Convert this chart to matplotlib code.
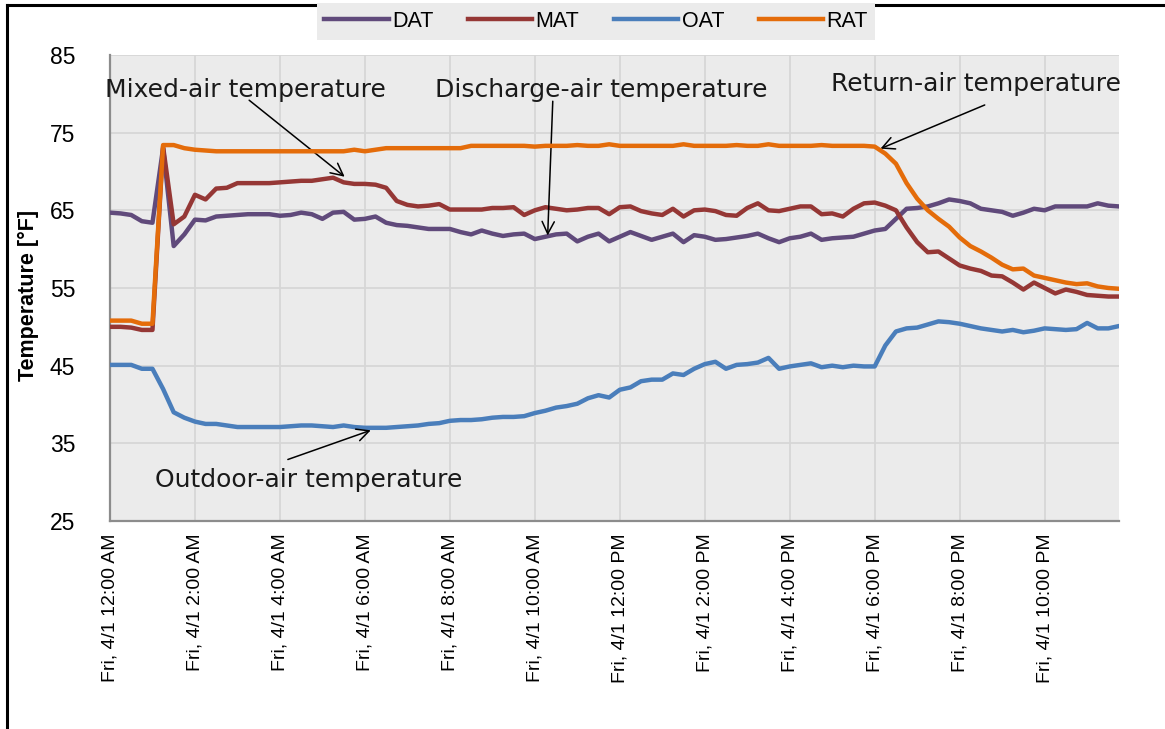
import matplotlib.pyplot as plt
from matplotlib.lines import Line2D

# 15-minute readings, Fri 4/1 00:00 .. 23:45
dat = [64.7, 64.6, 64.4, 63.6, 63.4, 73.0, 60.4, 61.9, 63.8, 63.7,
       64.2, 64.3, 64.4, 64.5, 64.5, 64.5, 64.3, 64.4, 64.7, 64.5,
       63.9, 64.7, 64.8, 63.8, 63.9, 64.2, 63.4, 63.1, 63.0, 62.8,
       62.6, 62.6, 62.6, 62.2, 61.9, 62.4, 62.0, 61.7, 61.9, 62.0,
       61.3, 61.6, 61.9, 62.0, 61.0, 61.6, 62.0, 61.0, 61.6, 62.2,
       61.7, 61.2, 61.6, 62.0, 60.9, 61.8, 61.6, 61.2, 61.3, 61.5,
       61.7, 62.0, 61.4, 60.9, 61.4, 61.6, 62.0, 61.2, 61.4, 61.5,
       61.6, 62.0, 62.4, 62.6, 63.9, 65.2, 65.3, 65.5, 65.9, 66.4,
       66.2, 65.9, 65.2, 65.0, 64.8, 64.3, 64.7, 65.2, 65.0, 65.5,
       65.5, 65.5, 65.5, 65.9, 65.6, 65.5]
mat = [50.0, 50.0, 49.9, 49.6, 49.6, 73.2, 63.2, 64.2, 67.0, 66.4,
       67.8, 67.9, 68.5, 68.5, 68.5, 68.5, 68.6, 68.7, 68.8, 68.8,
       69.0, 69.2, 68.6, 68.4, 68.4, 68.3, 67.9, 66.2, 65.7, 65.5,
       65.6, 65.8, 65.1, 65.1, 65.1, 65.1, 65.3, 65.3, 65.4, 64.4,
       65.0, 65.4, 65.2, 65.0, 65.1, 65.3, 65.3, 64.5, 65.4, 65.5,
       64.9, 64.6, 64.4, 65.2, 64.2, 65.0, 65.1, 64.9, 64.4, 64.3,
       65.3, 65.9, 65.0, 64.9, 65.2, 65.5, 65.5, 64.5, 64.6, 64.2,
       65.2, 65.9, 66.0, 65.6, 65.0, 62.8, 60.9, 59.6, 59.7, 58.8,
       57.9, 57.5, 57.2, 56.6, 56.5, 55.7, 54.8, 55.7, 55.0, 54.3,
       54.8, 54.5, 54.1, 54.0, 53.9, 53.9]
oat = [45.1, 45.1, 45.1, 44.6, 44.6, 42.0, 39.0, 38.3, 37.8, 37.5,
       37.5, 37.3, 37.1, 37.1, 37.1, 37.1, 37.1, 37.2, 37.3, 37.3,
       37.2, 37.1, 37.3, 37.1, 37.0, 37.0, 37.0, 37.1, 37.2, 37.3,
       37.5, 37.6, 37.9, 38.0, 38.0, 38.1, 38.3, 38.4, 38.4, 38.5,
       38.9, 39.2, 39.6, 39.8, 40.1, 40.8, 41.2, 40.9, 41.9, 42.2,
       43.0, 43.2, 43.2, 44.0, 43.8, 44.6, 45.2, 45.5, 44.6, 45.1,
       45.2, 45.4, 46.0, 44.6, 44.9, 45.1, 45.3, 44.8, 45.0, 44.8,
       45.0, 44.9, 44.9, 47.6, 49.4, 49.8, 49.9, 50.3, 50.7, 50.6,
       50.4, 50.1, 49.8, 49.6, 49.4, 49.6, 49.3, 49.5, 49.8, 49.7,
       49.6, 49.7, 50.5, 49.8, 49.8, 50.1]
rat = [50.8, 50.8, 50.8, 50.4, 50.4, 73.4, 73.4, 73.0, 72.8, 72.7,
       72.6, 72.6, 72.6, 72.6, 72.6, 72.6, 72.6, 72.6, 72.6, 72.6,
       72.6, 72.6, 72.6, 72.8, 72.6, 72.8, 73.0, 73.0, 73.0, 73.0,
       73.0, 73.0, 73.0, 73.0, 73.3, 73.3, 73.3, 73.3, 73.3, 73.3,
       73.2, 73.3, 73.3, 73.3, 73.4, 73.3, 73.3, 73.5, 73.3, 73.3,
       73.3, 73.3, 73.3, 73.3, 73.5, 73.3, 73.3, 73.3, 73.3, 73.4,
       73.3, 73.3, 73.5, 73.3, 73.3, 73.3, 73.3, 73.4, 73.3, 73.3,
       73.3, 73.3, 73.2, 72.3, 71.0, 68.5, 66.5, 65.0, 63.9, 62.9,
       61.5, 60.4, 59.7, 58.9, 58.0, 57.4, 57.5, 56.6, 56.3, 56.0,
       55.7, 55.5, 55.6, 55.2, 55.0, 54.9]

tick_labels = ["Fri, 4/1 12:00 AM", "Fri, 4/1 2:00 AM", "Fri, 4/1 4:00 AM",
               "Fri, 4/1 6:00 AM", "Fri, 4/1 8:00 AM", "Fri, 4/1 10:00 AM",
               "Fri, 4/1 12:00 PM", "Fri, 4/1 2:00 PM", "Fri, 4/1 4:00 PM",
               "Fri, 4/1 6:00 PM", "Fri, 4/1 8:00 PM", "Fri, 4/1 10:00 PM"]
y_ticks = [25, 35, 45, 55, 65, 75, 85]

colors = {"DAT": "#604A7B", "MAT": "#953735", "OAT": "#4A7EBB", "RAT": "#E46C0A"}
font = "Liberation Sans"
note_font = "DejaVu Sans"

fig = plt.figure(figsize=(11.65, 7.29), dpi=100)
ax = fig.add_axes([0.0944, 0.2853, 0.8661, 0.6393])
ax.set_facecolor("#EBEBEB")

x = list(range(len(dat)))
ax.plot(x, dat, color=colors["DAT"], lw=3.2, label="DAT", zorder=3)
ax.plot(x, mat, color=colors["MAT"], lw=3.2, label="MAT", zorder=3)
ax.plot(x, oat, color=colors["OAT"], lw=3.2, label="OAT", zorder=3)
ax.plot(x, rat, color=colors["RAT"], lw=3.2, label="RAT", zorder=4)

ax.set_xlim(0, len(dat) - 1)
ax.set_ylim(25, 85)
ax.set_yticks(y_ticks)
ax.set_yticklabels([str(v) for v in y_ticks], fontsize=16.5, family=font)
ax.set_xticks(range(0, len(dat), 8))
ax.set_xticklabels(tick_labels, rotation=90, fontsize=14, family=font,
                   va="top", ha="center")
ax.tick_params(axis="both", length=0)
ax.tick_params(axis="y", pad=25)
ax.tick_params(axis="x", pad=9)

ax.grid(True, color="#D6D6D6", lw=1.3)
ax.set_axisbelow(True)
for side in ["top", "right"]:
    ax.spines[side].set_visible(False)
for side in ["left", "bottom"]:
    ax.spines[side].set_color("#8C8C8C")
    ax.spines[side].set_linewidth(1.6)

ax.set_ylabel("Temperature [°F]", fontsize=15.5, fontweight="bold", family=font)
ax.yaxis.set_label_coords(-0.0705, 0.485)

# callouts
arrow = dict(arrowstyle="->", color="black", lw=1.1, mutation_scale=22)
note = dict(fontsize=18, family=note_font, va="center", ha="left", color="#1a1a1a")
ax.text(-0.5, 80.5, "Mixed-air temperature", **note)
ax.annotate("", xy=(22.3, 69.1), xytext=(12.9, 79.4), arrowprops=arrow)
ax.text(30.6, 80.5, "Discharge-air temperature", **note)
ax.annotate("", xy=(41.2, 61.4), xytext=(41.7, 79.4), arrowprops=arrow)
ax.text(67.9, 81.2, "Return-air temperature", **note)
ax.annotate("", xy=(72.3, 72.8), xytext=(82.6, 78.7), arrowprops=arrow)
ax.text(4.2, 30.3, "Outdoor-air temperature", **note)
ax.annotate("", xy=(24.8, 36.8), xytext=(16.5, 32.8), arrowprops=arrow)

leg = fig.legend(loc="center", bbox_to_anchor=(0.5116, 0.9705), ncol=4,
                 frameon=True, fancybox=False, handlelength=3.0,
                 handletextpad=0.15, columnspacing=1.6, borderpad=0.35,
                 prop={"family": font, "size": 15.5})
leg.get_frame().set_facecolor("#EBEBEB")
leg.get_frame().set_edgecolor("none")
leg.get_frame().set_alpha(1)

# frame of the original screenshot
fig.add_artist(Line2D([0.006, 1.0], [0.9931, 0.9931], color="black", lw=2.2,
                      transform=fig.transFigure))
fig.add_artist(Line2D([0.006, 0.006], [0.0, 0.9931], color="black", lw=2.2,
                      transform=fig.transFigure))

fig.savefig("out.png", dpi=100)
